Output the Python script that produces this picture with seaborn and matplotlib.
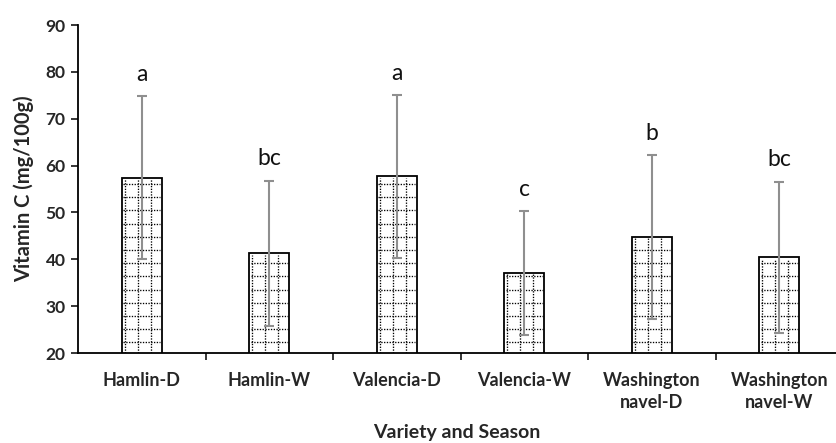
import numpy as np
import pandas as pd
import matplotlib
matplotlib.use("Agg")
import matplotlib.pyplot as plt
import seaborn as sns

# Vitamin C content by orange variety and season
categories = ["Hamlin-D", "Hamlin-W", "Valencia-D", "Valencia-W",
              "Washington\nnavel-D", "Washington\nnavel-W"]
vitamin_c = [57.4, 41.3, 57.7, 37.1, 44.8, 40.4]
std_dev = [17.4, 15.5, 17.4, 13.2, 17.5, 16.2]
letters = ["a", "bc", "a", "c", "b", "bc"]

y_ticks = [20, 30, 40, 50, 60, 70, 80, 90]

sns.set_theme(style="white")
plt.rcParams["font.family"] = ["Lato", "DejaVu Sans"]

df = pd.DataFrame({"variety": categories, "vitc": vitamin_c, "sd": std_dev})

fig = plt.figure(figsize=(8.36, 4.43), dpi=100)
ax = fig.add_axes([78 / 836, 90 / 443, 758 / 836, 328 / 443])

sns.barplot(data=df, x="variety", y="vitc", color="white", saturation=1,
            width=0.31, edgecolor="black", linewidth=1.3, errorbar=None, ax=ax)

ymin, ymax = 20, 90
ax.set_ylim(ymin, ymax)
ax.set_xlim(-0.5, 5.445)

# dotted grid fill inside each bar
dot_style = dict(color="black", lw=0.95, ls=(0, (1.0, 1.1)), zorder=3)
hatch_rows = np.arange(56.06 - 2.817 * 20, 92, 2.817)
for patch in ax.patches:
    patch.set_zorder(2)
    x0 = patch.get_x()
    w = patch.get_width()
    top = patch.get_height()
    for yv in hatch_rows:
        if ymin + 0.3 < yv < top - 0.4:
            ax.plot([x0 + 0.01, x0 + w - 0.01], [yv, yv], **dot_style)
    for frac in (0.075, 0.4, 0.725):
        xv = x0 + frac * w
        ax.plot([xv, xv], [ymin, top - 0.3], **dot_style)

xpos = np.arange(len(categories))
ax.errorbar(xpos, vitamin_c, yerr=std_dev, fmt="none", ecolor="#8f8f8f",
            elinewidth=1.5, capsize=3.6, capthick=1.5, zorder=5)

for x, m, s, lab in zip(xpos, vitamin_c, std_dev, letters):
    ax.annotate(lab, (x, m + s), xytext=(0, 11), textcoords="offset points",
                ha="center", va="baseline", fontsize=16.5, color="#111111")

ax.set_yticks(y_ticks)
ax.set_yticklabels([str(t) for t in y_ticks], fontweight="bold", fontsize=12.5)
ax.set_xticks(xpos)
ax.set_xticklabels(categories, fontweight="bold", fontsize=13, linespacing=1.35)
ax.set_xticks(np.arange(0.5, len(categories) - 1, 1), minor=True)
ax.tick_params(axis="x", which="major", length=0, pad=14)
ax.tick_params(axis="x", which="minor", length=5, width=1.1, color="black",
               direction="out", bottom=True)
ax.tick_params(axis="y", which="major", length=5, width=1.1, color="black",
               direction="out", left=True, pad=4)

for side in ("top", "right"):
    ax.spines[side].set_visible(False)
for side in ("left", "bottom"):
    ax.spines[side].set_color("black")
    ax.spines[side].set_linewidth(1.3)

ax.set_xlabel("Variety and Season", fontweight="bold", fontsize=14, labelpad=9)
ax.set_ylabel("Vitamin C (mg/100g)", fontweight="bold", fontsize=14.5, labelpad=8)

fig.savefig("out.png", dpi=100)
